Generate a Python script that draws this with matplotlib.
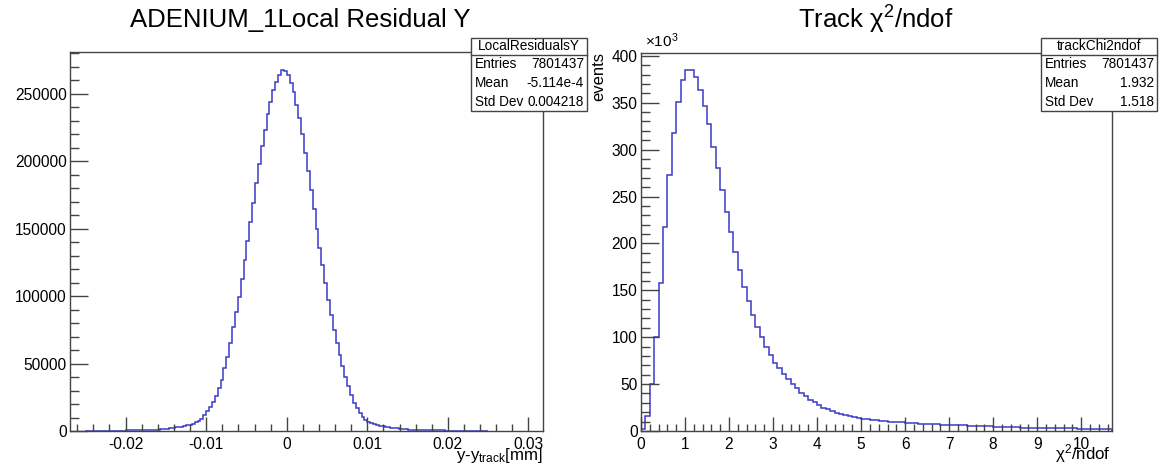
import numpy as np
import matplotlib
matplotlib.use('Agg')
import matplotlib.pyplot as plt
from matplotlib.patches import Rectangle
from matplotlib.ticker import MultipleLocator, FuncFormatter

plt.rcParams['font.family'] = ['Liberation Sans', 'DejaVu Sans']
plt.rcParams['mathtext.fontset'] = 'custom'
plt.rcParams['mathtext.rm'] = 'Liberation Sans'
plt.rcParams['mathtext.default'] = 'regular'
plt.rcParams['axes.unicode_minus'] = False

# --- data, counts in thousands ---
# local residual Y, 140 bins in [-0.025, 0.025] mm
resid_k = [0.1, 0.1, 0.15, 0.15, 0.2, 0.2, 0.2, 0.25, 0.25, 0.3,
           0.3, 0.3, 0.35, 0.35, 0.4, 0.4, 0.45, 0.5, 0.5, 0.55,
           0.6, 0.65, 0.7, 0.8, 0.9, 1.0,
           1.3, 1.5, 1.7, 2.0,
           2.3, 2.6, 2.9,
           3.3, 3.7, 4.2,
           4.8, 5.5,
           6.4, 7.5,
           9.0, 11.6, 14.8, 18.0, 21.8, 26.0, 31.7, 37.9, 46.5, 55.0,
           65.0, 77.0, 88.6, 99.7, 113, 127, 141, 155, 169, 184,
           198, 211, 223, 235, 244, 253, 259, 264, 267.5, 267,
           264, 258, 251, 242, 232, 220, 206, 192.5, 179, 164.6,
           150, 136, 123, 109.6, 97, 86, 75, 65, 56, 48,
           40, 33, 26.7, 21, 16.8, 13, 10.2, 8.2, 7.0, 6.0,
           5.0, 4.5, 3.9, 3.4, 3.0, 2.7, 2.4, 2.1, 1.9, 1.7,
           1.5, 1.3, 1.1, 1.0, 0.9,
           0.8, 0.75, 0.7, 0.65, 0.6, 0.55, 0.5, 0.45, 0.4, 0.4,
           0.35, 0.35, 0.3, 0.3, 0.25, 0.25, 0.2, 0.2, 0.2, 0.15,
           0.15, 0.1, 0.1, 0.1, 0.1]
resid_lo, resid_hi = -0.025, 0.025

# track chi2/ndof, bins of 0.1 from 0 to 10.7
chi2_k = [2, 16, 50, 100, 158, 218, 273, 318, 351, 374,
          385, 385, 377, 364, 347, 327, 303, 280, 257, 234,
          212, 191, 172, 154, 139, 124, 111, 100, 90, 81,
          73, 67, 61, 55, 50, 45.5, 41, 37, 33.5, 30.5,
          27.5, 25, 23, 21, 19.5, 18.2, 17, 15.8, 14.8, 14,
          13.2, 12.5, 11.8, 11.2, 10.7, 10.3, 10.0, 9.7, 9.4, 9.1,
          8.8, 8.5, 8.2, 7.9, 7.6, 7.4, 7.2, 7.0, 6.8, 6.6,
          6.4, 6.2, 6.0, 5.9, 5.8, 5.7, 5.6, 5.5, 5.4, 4.9,
          4.6, 4.4, 4.3, 4.2, 4.1, 4.0, 3.6, 3.4, 3.3, 3.2,
          3.2, 3.1, 3.1, 3.0, 3.0, 3.0, 2.9, 2.9, 2.9, 2.3,
          2.1, 2.0, 2.0, 1.9, 1.9, 1.8, 1.8]
chi2_lo, chi2_hi = 0.0, 10.7

resid_stats = [('Entries', '7801437'), ('Mean', '-5.114e-4'), ('Std Dev', '0.004218')]
chi2_stats = [('Entries', '7801437'), ('Mean', '1.932'), ('Std Dev', '1.518')]

resid_counts = np.array(resid_k) * 1000
resid_edges = np.linspace(resid_lo, resid_hi, len(resid_k) + 1)
chi2_counts = np.array(chi2_k) * 1000
chi2_edges = np.linspace(chi2_lo, chi2_hi, len(chi2_k) + 1)

W, H = 1160, 465
def fx(px):
    return px / W
def fy(py):
    return 1 - py / H

blue = '#3b3bc9'
frame = '#444444'
fs_tick = 11.2

fig = plt.figure(figsize=(W / 100, H / 100), dpi=100)
ax1 = fig.add_axes([fx(70), fy(431), (543 - 70) / W, (431 - 52) / H])
ax2 = fig.add_axes([fx(641), fy(431), (1112 - 641) / W, (431 - 53) / H])

ax1.stairs(resid_counts, resid_edges, color=blue, lw=1.1)
ax1.set_xlim(-0.0269, 0.0318)
ax1.set_ylim(0, 281000)
ax1.xaxis.set_major_locator(MultipleLocator(0.01))
ax1.xaxis.set_minor_locator(MultipleLocator(0.002))
ax1.yaxis.set_major_locator(MultipleLocator(50000))
ax1.yaxis.set_minor_locator(MultipleLocator(10000))
ax1.xaxis.set_major_formatter(FuncFormatter(lambda v, p: '%g' % (round(v, 6) + 0.0)))
ax1.yaxis.set_major_formatter(FuncFormatter(lambda v, p: '%d' % round(v)))

ax2.stairs(chi2_counts, chi2_edges, color=blue, lw=1.1)
ax2.set_xlim(chi2_lo, chi2_hi)
ax2.set_ylim(0, 403000)
ax2.xaxis.set_major_locator(MultipleLocator(1))
ax2.xaxis.set_minor_locator(MultipleLocator(0.2))
ax2.yaxis.set_major_locator(MultipleLocator(50000))
ax2.yaxis.set_minor_locator(MultipleLocator(10000))
ax2.xaxis.set_major_formatter(FuncFormatter(lambda v, p: '%g' % round(v, 3)))
ax2.yaxis.set_major_formatter(FuncFormatter(lambda v, p: '%g' % round(v / 1000)))

for ax in (ax1, ax2):
    for s in ax.spines.values():
        s.set_color(frame)
        s.set_linewidth(1.0)
    ax.tick_params(which='both', direction='in', top=False, right=False,
                   color=frame, width=1.0, labelsize=fs_tick)
    ax.tick_params(axis='x', which='major', length=10, pad=4)
    ax.tick_params(axis='x', which='minor', length=5)
    ax.tick_params(axis='y', which='major', length=13, pad=2.5)
    ax.tick_params(axis='y', which='minor', length=6.5)

# titles and axis labels
fig.text(fx(300), fy(20), 'ADENIUM_1Local Residual Y', fontsize=18.5,
         ha='center', va='center')
fig.text(fx(876), fy(20), 'Track χ$^{2}$/ndof', fontsize=18.5,
         ha='center', va='center')
fig.text(fx(543), fy(455), 'y-y$_{track}$[mm]', fontsize=12.2, ha='right', va='center')
fig.text(fx(1111), fy(454), 'χ$^{2}$/ndof', fontsize=12.2, ha='right', va='center')
fig.text(fx(599), fy(52), 'events', fontsize=12, rotation=90, ha='center', va='top')
fig.text(fx(645), fy(41), '×10$^{3}$', fontsize=11, ha='left', va='center')


def stats_box(x0, x1, name, rows):
    top, sep, bot = 38, 55, 111
    fig.patches.append(Rectangle((fx(x0), fy(bot)), (x1 - x0) / W, (bot - top) / H,
                                 transform=fig.transFigure, facecolor='white',
                                 edgecolor=frame, lw=1.0, zorder=5))
    fig.add_artist(plt.Line2D([fx(x0), fx(x1)], [fy(sep), fy(sep)],
                              color=frame, lw=1.0, zorder=6))
    fig.text(fx((x0 + x1) / 2), fy((top + sep) / 2), name, fontsize=9.8,
             ha='center', va='center', zorder=7)
    for i, (lab, val) in enumerate(rows):
        yy = 64.5 + i * 18.7
        fig.text(fx(x0 + 4), fy(yy), lab, fontsize=9.8, ha='left', va='center', zorder=7)
        fig.text(fx(x1 - 3), fy(yy), val, fontsize=9.8, ha='right', va='center', zorder=7)


stats_box(471, 587, 'LocalResidualsY', resid_stats)
stats_box(1041, 1157, 'trackChi2ndof', chi2_stats)

fig.savefig('out.png', dpi=100, facecolor='white')
